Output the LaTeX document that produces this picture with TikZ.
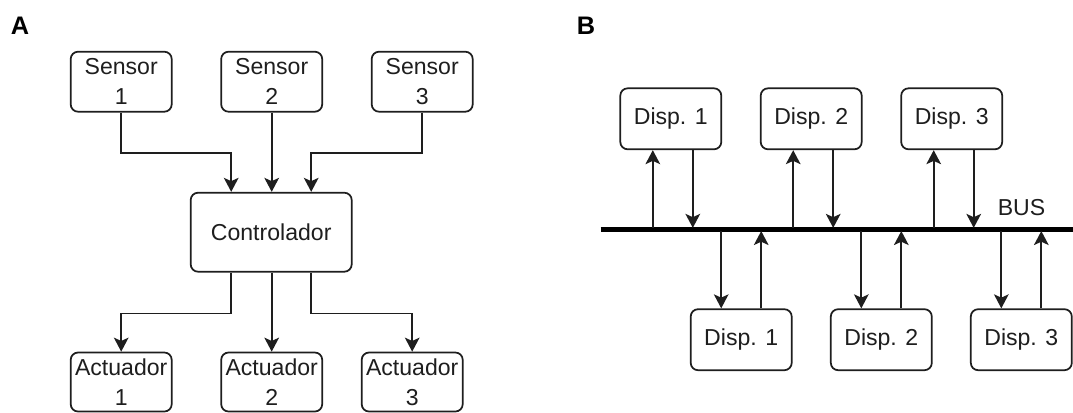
\documentclass[tikz,border=0pt]{standalone}
\usepackage{fontspec}
\setmainfont{Liberation Sans}
\usetikzlibrary{arrows.meta,calc}
\definecolor{ink}{HTML}{1E1E1E}
\tikzset{
  box/.style={draw=ink, line width=1.3pt, rounded corners=5.5pt, fill=white,
    inner sep=0pt, align=center, text=ink,
    font=\fontsize{17.3}{22.5}\selectfont},
  smallbox/.style={box, minimum width=75.75pt, minimum height=45pt},
  bigbox/.style={box, minimum width=120.75pt, minimum height=59.25pt},
  conn/.style={draw=ink, line width=1.25pt,
    -{Stealth[length=10.5pt, width=11pt, inset=2.5pt]}},
  panel/.style={font=\fontsize{19}{22}\selectfont\bfseries, text=black, inner sep=0pt},
  buslabel/.style={font=\fontsize{17.3}{22}\selectfont, text=ink, inner sep=0pt}
}
\begin{document}
\begin{tikzpicture}[x=0.75pt, y=-0.75pt]
\useasboundingbox (0,0) rectangle (1073,412);

% ---- A: centralised control ----
\node[panel] (lblA) at (20,25.5) {A};

\node[smallbox] (s1) at (121.2,81.7) {Sensor\\1};
\node[smallbox] (s2) at (271.7,81.7) {Sensor\\2};
\node[smallbox] (s3) at (422.2,81.7) {Sensor\\3};

\node[bigbox] (ctl) at (271.2,232.2) {Controlador};

\node[smallbox, minimum height=44.25pt] (a1) at (121.2,382) {Actuador\\1};
\node[smallbox, minimum height=44.25pt] (a2) at (271.7,382) {Actuador\\2};
\node[smallbox, minimum height=44.25pt] (a3) at (412.2,382) {Actuador\\3};

\draw[conn] (s1.south) -- ++(0,40.5) -| ([shift={(-40,0)}]ctl.north);
\draw[conn] (s2.south) -- (s2.south |- ctl.north);
\draw[conn] (s3.south) -- ++(0,40.5) -| ([shift={(40,0)}]ctl.north);

\draw[conn] ([shift={(-40,0)}]ctl.south) -- ++(0,41) -| (a1.north);
\draw[conn] (ctl.south -| a2.north) -- (a2.north);
\draw[conn] ([shift={(40,0)}]ctl.south) -- ++(0,41) -| (a3.north);

% ---- B: shared bus ----
\node[panel] (lblB) at (586,26) {B};

\coordinate (busL) at (600.7,229.5);
\coordinate (busR) at (1073,229.5);
\draw[black, line width=3.75pt] (busL) -- (busR);
\node[buslabel] (bus) at (1021.5,208) {BUS};

\node[smallbox, minimum height=45.75pt] (t1) at (670.8,118.8) {Disp. 1};
\node[smallbox, minimum height=45.75pt] (t2) at (811.2,118.8) {Disp. 2};
\node[smallbox, minimum height=45.75pt] (t3) at (951.7,118.8) {Disp. 3};

\node[smallbox, minimum height=45.75pt] (b1) at (741.2,339.7) {Disp. 1};
\node[smallbox, minimum height=45.75pt] (b2) at (881.3,339.7) {Disp. 2};
\node[smallbox, minimum height=45.75pt] (b3) at (1021.3,339.7) {Disp. 3};

% devices above the bus
\foreach \d in {t1,t2,t3}{
  \draw[conn] ([shift={(-18,0)}]\d.south) ++(0,77.7) -- ([shift={(-18,0)}]\d.south);
  \draw[conn] ([shift={(22,0)}]\d.south) -- ++(0,77.7);
}
% devices below the bus
\foreach \d in {b1,b2,b3}{
  \draw[conn] ([shift={(-20,-77.3)}]\d.north) -- ([shift={(-20,0)}]\d.north);
  \draw[conn] ([shift={(20,0)}]\d.north) -- ++(0,-77.3);
}
\end{tikzpicture}
\end{document}
